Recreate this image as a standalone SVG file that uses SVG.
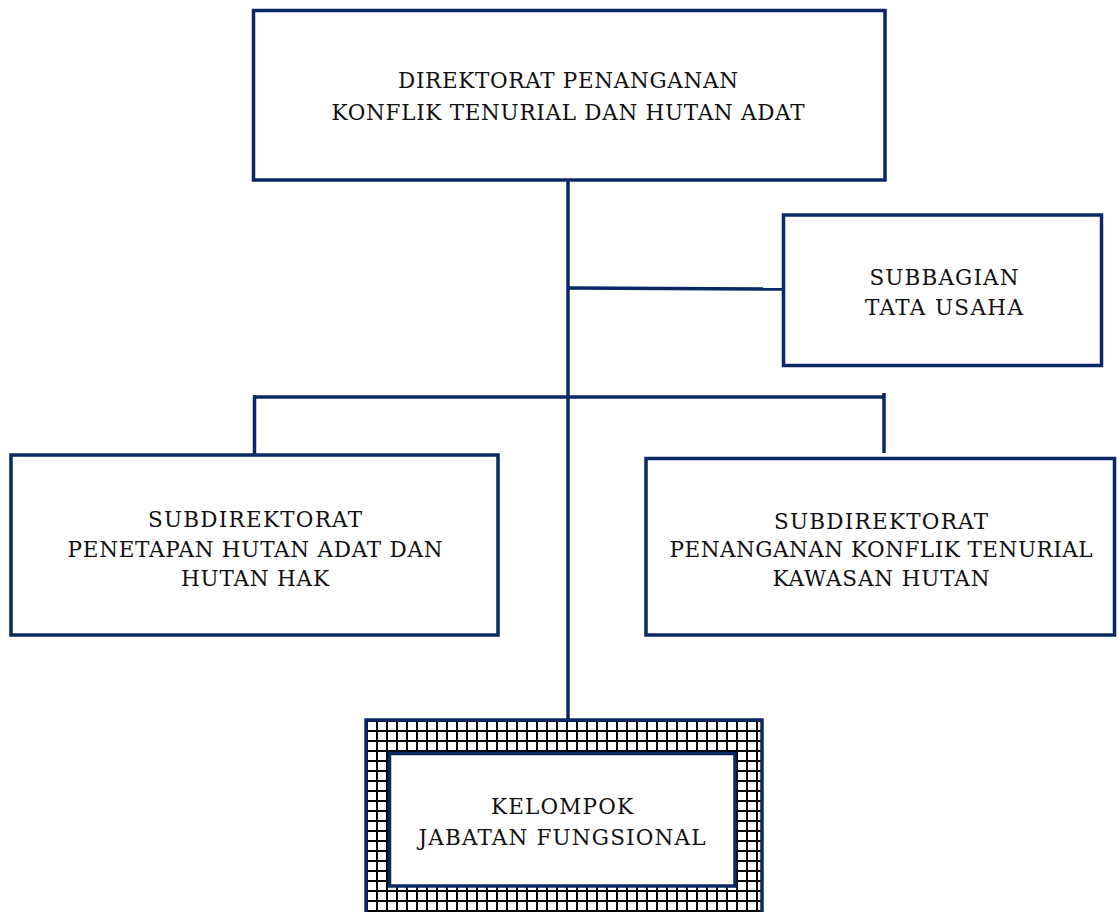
<svg xmlns="http://www.w3.org/2000/svg" width="1118" height="912" viewBox="0 0 1118 912">
<style>
.box{fill:#ffffff;stroke:#0b2764;stroke-width:3.5}
.ln{stroke:#0b2764;stroke-width:3.5;fill:none}
.t{font-family:"DejaVu Serif","Liberation Serif",serif;font-size:21.5px;fill:#111111;text-anchor:middle}
</style>
<defs>
<pattern id="grid" x="366" y="720" width="10" height="10" patternUnits="userSpaceOnUse">
<rect width="10" height="10" fill="#ffffff"/>
<path d="M0 1H10M1 0V10" stroke="#000000" stroke-width="2"/>
</pattern>
</defs>
<rect width="1118" height="912" fill="#ffffff"/>
<g id="connectors">
<line class="ln" x1="568" y1="180" x2="568" y2="721"/>
<line class="ln" x1="568" y1="288" x2="784" y2="289"/>
<line class="ln" x1="253" y1="397" x2="884" y2="397"/>
<line class="ln" x1="254.5" y1="395.3" x2="254.5" y2="456"/>
<line class="ln" x1="884" y1="393" x2="884" y2="453"/>
</g>
<g id="direktorat">
<rect class="box" x="253.5" y="10.5" width="631.5" height="169.5"/>
<text class="t" x="568" y="88" textLength="340">DIREKTORAT PENANGANAN</text>
<text class="t" x="568" y="120" textLength="473">KONFLIK TENURIAL DAN HUTAN ADAT</text>
</g>
<g id="subbagian">
<rect class="box" x="783.5" y="215" width="318" height="150.5"/>
<text class="t" x="944" y="285" textLength="149">SUBBAGIAN</text>
<text class="t" x="944" y="315" textLength="158">TATA USAHA</text>
</g>
<g id="subdit-hutan-adat">
<rect class="box" x="11" y="455" width="487" height="180"/>
<text class="t" x="255" y="527" textLength="214">SUBDIREKTORAT</text>
<text class="t" x="255" y="557" textLength="375">PENETAPAN HUTAN ADAT DAN</text>
<text class="t" x="255" y="586" textLength="148">HUTAN HAK</text>
</g>
<g id="subdit-konflik">
<rect class="box" x="646" y="458.5" width="468.5" height="176.5"/>
<text class="t" x="881" y="529" textLength="214">SUBDIREKTORAT</text>
<text class="t" x="881" y="557" textLength="423">PENANGANAN KONFLIK TENURIAL</text>
<text class="t" x="881" y="586" textLength="217">KAWASAN HUTAN</text>
</g>
<g id="kelompok">
<rect x="366" y="720" width="396" height="200" fill="url(#grid)" stroke="#0b2764" stroke-width="3.5"/>
<rect class="box" x="389.5" y="753.5" width="345.5" height="132.5"/>
<text class="t" x="562" y="814" textLength="142">KELOMPOK</text>
<text class="t" x="562" y="845" textLength="287">JABATAN FUNGSIONAL</text>
</g>
</svg>
